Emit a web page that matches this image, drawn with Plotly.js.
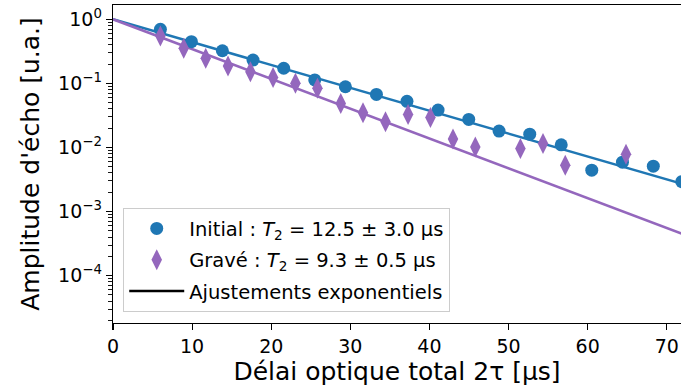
<!DOCTYPE html>
<html>
<head>
<meta charset="utf-8">
<script src="https://cdn.plot.ly/plotly-3.0.1.min.js"></script>
<style>html,body{margin:0;padding:0;overflow:hidden;background:#fff;}</style>
</head>
<body>
<div id="chart" style="width:681px;height:390px;"></div>
<script>
// Data
const initialX = [5.99, 9.91, 13.83, 17.70, 21.58, 25.50, 29.38, 33.30, 37.16, 41.09, 44.97, 48.80, 52.68, 56.66, 60.52, 64.40, 68.30, 71.90];
const initialY = [0.698, 0.447, 0.323, 0.231, 0.172, 0.113, 0.0885, 0.0673, 0.0525, 0.0383, 0.0274, 0.0180, 0.0161, 0.0110, 0.00442, 0.00589, 0.00510, 0.00292];
const graveX = [5.99, 8.94, 11.72, 14.54, 17.37, 20.23, 23.06, 25.84, 28.79, 31.60, 34.45, 37.30, 40.13, 42.98, 45.80, 51.50, 54.36, 57.17, 64.85];
const graveY = [0.548, 0.352, 0.246, 0.186, 0.152, 0.124, 0.100, 0.0836, 0.0487, 0.0347, 0.0251, 0.0326, 0.0294, 0.0135, 0.0102, 0.00964, 0.01155, 0.00529, 0.00785];
const fitX = [0, 72];
const initialFitY = [1.0, 0.00269];
const graveFitY = [1.0, 0.000447];
const yTickVals = [1, 0.1, 0.01, 0.001, 0.0001];
const yTickText = ['10<sup>0</sup>', '10<sup>\u22121</sup>', '10<sup>\u22122</sup>', '10<sup>\u22123</sup>', '10<sup>\u22124</sup>'];
const xTickVals = [0, 10, 20, 30, 40, 50, 60, 70];
const labels = {
  initial: 'Initial : <i>T</i><sub>2</sub> = 12.5 \u00b1 3.0 \u00b5s',
  grave: 'Grav\u00e9 : <i>T</i><sub>2</sub> = 9.3 \u00b1 0.5 \u00b5s',
  fit: 'Ajustements exponentiels',
  xTitle: 'D\u00e9lai optique total 2\u03c4 [\u00b5s]',
  yTitle: "Amplitude d'\u00e9cho [u.a.]"
};

const blue = '#1f77b4', purple = '#9467bd';
const font = 'DejaVu Sans, sans-serif';

const traces = [
  {x: fitX, y: initialFitY, mode: 'lines', line: {color: blue, width: 2.5}, showlegend: false, hoverinfo: 'skip'},
  {x: fitX, y: graveFitY, mode: 'lines', line: {color: purple, width: 2.5}, showlegend: false, hoverinfo: 'skip'},
  {x: initialX, y: initialY, mode: 'markers', name: labels.initial, legendgroup: 'a',
   marker: {color: blue, size: 13, symbol: 'circle'}, cliponaxis: true},
  {x: graveX, y: graveY, mode: 'markers', name: labels.grave, legendgroup: 'b',
   marker: {color: purple, size: 15, symbol: 'diamond-tall'}, cliponaxis: true},
  {x: [null], y: [null], mode: 'lines', name: labels.fit, legendgroup: 'c',
   line: {color: 'black', width: 2.5}}
];

const layout = {
  width: 681, height: 390,
  margin: {l: 113, r: 0, t: 5, b: 67},
  paper_bgcolor: '#fff', plot_bgcolor: '#fff',
  font: {family: font, color: '#000', size: 19},
  showlegend: true,
  legend: {
    x: 0.018, y: 0.361, xanchor: 'left', yanchor: 'top',
    bgcolor: 'rgba(255,255,255,0.8)', bordercolor: '#cccccc', borderwidth: 1,
    font: {family: font, size: 19.5, color: '#000'},
    tracegroupgap: 3, itemwidth: 55
  },
  xaxis: {
    range: [0, 71.8], tickvals: xTickVals, showgrid: false, zeroline: false,
    showline: true, linecolor: '#000', linewidth: 1.3, mirror: true,
    ticks: 'outside', ticklen: 6, tickwidth: 1.2, tickcolor: '#000',
    tickfont: {family: font, size: 19},
    title: {text: labels.xTitle, font: {family: font, size: 25}, standoff: 5}
  },
  yaxis: {
    type: 'log', range: [-4.74, 0.223], tickmode: 'array', tickvals: yTickVals, ticktext: yTickText,
    showgrid: false, zeroline: false,
    showline: true, linecolor: '#000', linewidth: 1.3, mirror: false,
    ticks: 'outside', ticklen: 6, tickwidth: 1.2, tickcolor: '#000',
    tickfont: {family: font, size: 19},
    minor: {ticks: 'outside', ticklen: 3.5, tickwidth: 0.9, tickcolor: '#000', dtick: 'D1', showgrid: false},
    title: {text: labels.yTitle, font: {family: font, size: 25}, standoff: 11}
  }
};

Plotly.newPlot('chart', traces, layout, {displayModeBar: false, staticPlot: true});
</script>
</body>
</html>
